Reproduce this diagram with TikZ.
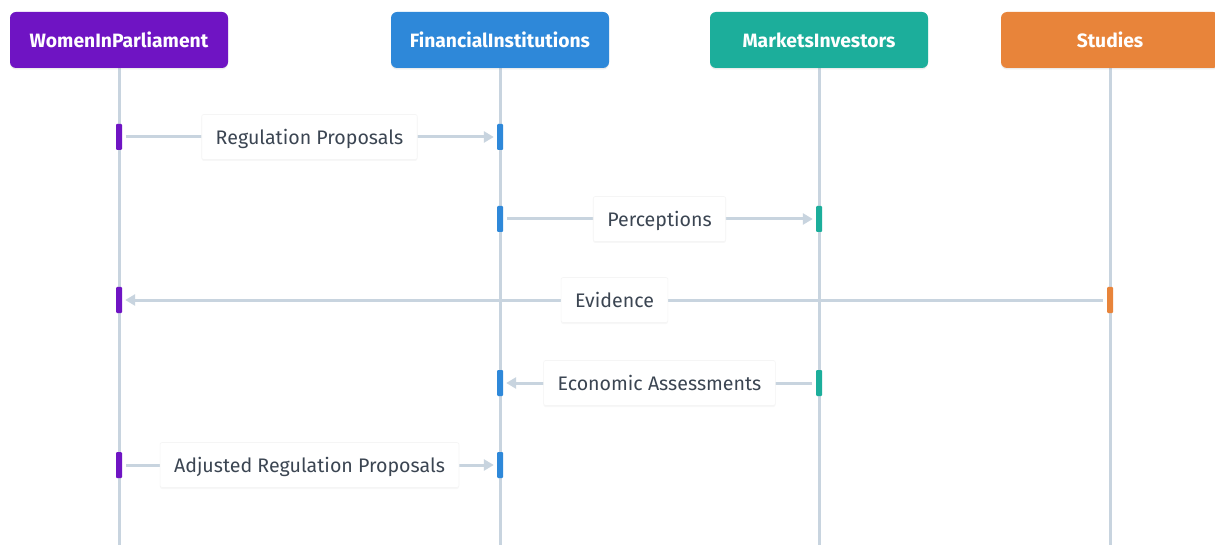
\documentclass[tikz,border=0pt]{standalone}
\usepackage{fontspec}
\setmainfont{Fira Sans}
\usetikzlibrary{arrows.meta,shadows}
\definecolor{cpurple}{HTML}{6F14C3}
\definecolor{cblue}{HTML}{2E88D9}
\definecolor{cteal}{HTML}{1CAE9B}
\definecolor{corange}{HTML}{E8843A}
\definecolor{cline}{HTML}{C8D4DF}
\definecolor{ctext}{HTML}{3B4552}
\begin{document}
\begin{tikzpicture}[x=1pt,y=-1pt,
  head/.style={rounded corners=6pt, minimum width=218pt, minimum height=56pt, inner sep=0pt,
    text=white, font=\fontsize{19.3}{22}\selectfont\bfseries, text height=16.5pt, text depth=2pt,
    drop shadow={shadow xshift=0pt, shadow yshift=-1.5pt, opacity=0.15}},
  life/.style={draw=cline, line width=3pt},
  bar/.style={minimum width=6pt, minimum height=26pt, inner sep=0pt, rounded corners=1pt},
  msg/.style={draw=cline, line width=3pt, -{Triangle[length=10pt,width=11pt]}, shorten <=4pt, shorten >=3pt},
  lbl/.style={fill=white, text=ctext, font=\fontsize{19.6}{24}\selectfont, minimum height=45pt,
    text height=16.8pt, text depth=2pt,
    inner xsep=14pt, draw=black!4, line width=0.6pt, rounded corners=2pt,
    drop shadow={shadow xshift=0pt, shadow yshift=-1.5pt, opacity=0.06}}
]
\useasboundingbox (0,0) rectangle (1215,545);
\fill[white] (0,0) rectangle (1215,545);

% lifelines
\coordinate (e1) at (119,545);
\coordinate (e2) at (500,545);
\coordinate (e3) at (819,545);
\coordinate (e4) at (1110,545);
\coordinate (t1) at (119,60);
\coordinate (t2) at (500,60);
\coordinate (t3) at (819,60);
\coordinate (t4) at (1110,60);
\draw[life] (t1) -- (e1);
\draw[life] (t2) -- (e2);
\draw[life] (t3) -- (e3);
\draw[life] (t4) -- (e4);

% headers
\node[head, fill=cpurple] (h1) at (119,40) {WomenInParliament};
\node[head, fill=cblue] (h2) at (500,40) {FinancialInstitutions};
\node[head, fill=cteal] (h3) at (819,40) {MarketsInvestors};
\node[head, fill=corange] (h4) at (1110,40) {Studies};

% activation bars
\node[bar, fill=cpurple] (p1) at (119,137) {};
\node[bar, fill=cblue] (f1) at (500,137) {};
\node[bar, fill=cblue] (f2) at (500,219) {};
\node[bar, fill=cteal] (m2) at (819,219) {};
\node[bar, fill=cpurple] (p3) at (119,300) {};
\node[bar, fill=corange] (s3) at (1110,300) {};
\node[bar, fill=cblue] (f4) at (500,383) {};
\node[bar, fill=cteal] (m4) at (819,383) {};
\node[bar, fill=cpurple] (p5) at (119,465) {};
\node[bar, fill=cblue] (f5) at (500,465) {};

% messages
\draw[msg] (p1.east) -- node[lbl] (l1) {Regulation Proposals} (f1.west);
\draw[msg] (f2.east) -- node[lbl] (l2) {Perceptions} (m2.west);
\draw[msg] (s3.west) -- node[lbl] (l3) {Evidence} (p3.east);
\draw[msg] (m4.west) -- node[lbl] (l4) {Economic Assessments} (f4.east);
\draw[msg] (p5.east) -- node[lbl] (l5) {Adjusted Regulation Proposals} (f5.west);
\end{tikzpicture}
\end{document}
